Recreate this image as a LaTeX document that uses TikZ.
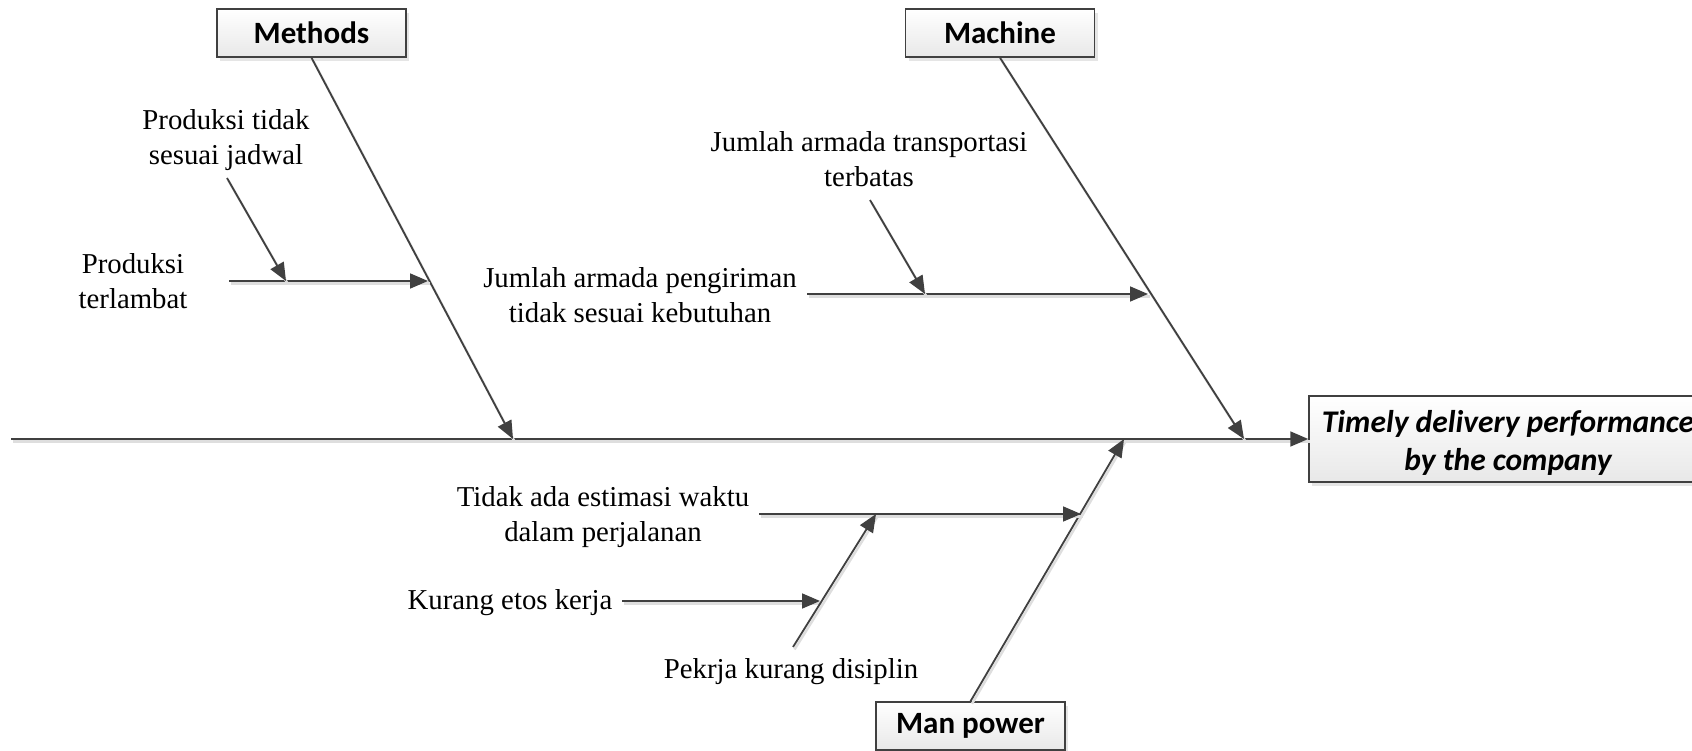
\documentclass[tikz,border=0pt]{standalone}
\usepackage{fontspec}
\setmainfont{Liberation Serif}
\newfontfamily\boxfont{Carlito}
\usetikzlibrary{arrows.meta,shadows}
\definecolor{linegray}{HTML}{404040}
\definecolor{shadowgray}{HTML}{DEDEDE}
\begin{document}
\begin{tikzpicture}[x=1pt,y=-1pt,
  catbox/.style={draw=linegray, line width=1.5pt, top color=white, bottom color=black!9,
    minimum width=189pt, minimum height=48pt, inner sep=0pt,
    font=\boxfont\fontsize{31}{36}\selectfont\bfseries,
    drop shadow={shadow xshift=3pt, shadow yshift=-4pt, fill=shadowgray, opacity=0.8}},
  causetext/.style={align=center, inner sep=0pt, font=\fontsize{28.8}{34.5}\selectfont},
  bone/.style={draw=linegray, line width=1.8pt,
    -{Triangle[length=18pt,width=15pt]},
    preaction={draw=shadowgray, line width=2.5pt, -, transform canvas={shift={(1.5pt,-2.5pt)}}}},
  spine/.style={bone, -{Triangle[length=18pt,width=15pt]}}
]
\useasboundingbox (0,0) rectangle (1692,751);

% category boxes
\node[catbox] (methods) at (311.5,33) {\raisebox{-1.5pt}{Methods}};
\node[catbox] (machine) at (1000,33) {\raisebox{-1.5pt}{Machine}};
\node[catbox] (manpower) at (970.5,726) {\raisebox{-2pt}{Man power}};

% effect box (runs past the right edge)
\node[catbox, minimum width=398pt, minimum height=86pt] (effect) at (1508,439) {};
\node[font=\boxfont\fontsize{31.5}{37.5}\selectfont\bfseries\itshape, align=center, inner sep=0pt]
  (effectText) at (1508,443) {Timely delivery performance\\by the company};

% spine points
\coordinate (tail) at (11,439);
\coordinate (mJoin) at (513,439);
\coordinate (cJoin) at (1244,439);
\coordinate (pJoin) at (1124,439);

% spine and main bones
\draw[spine] (tail) -- (effect.west);
\draw[bone] (methods.south) -- (mJoin);
\draw[bone] (machine.south) -- (cJoin);
\draw[bone] (manpower.north) -- (pJoin);

% Methods causes
\node[causetext] (terlambat) at (133,281) {Produksi\\terlambat};
\node[causetext] (jadwal) at (226,140) {Produksi tidak\\sesuai jadwal};
\coordinate (terlambatS) at (229,281);
\coordinate (terlambatE) at (428,281);
\coordinate (jadwalS) at (227,178);
\coordinate (jadwalE) at (286,281);
\draw[bone] (terlambatS) -- (terlambatE);
\draw[bone] (jadwalS) -- (jadwalE);

% Machine causes
\node[causetext] (pengiriman) at (640,295) {Jumlah armada pengiriman\\tidak sesuai kebutuhan};
\node[causetext] (transportasi) at (869,159) {Jumlah armada transportasi\\terbatas};
\coordinate (pengirimanS) at (807,294);
\coordinate (pengirimanE) at (1148,294);
\coordinate (transportasiS) at (870,200);
\coordinate (transportasiE) at (925,294);
\draw[bone] (pengirimanS) -- (pengirimanE);
\draw[bone] (transportasiS) -- (transportasiE);

% Man power causes
\node[causetext] (estimasi) at (603,517) {Tidak ada estimasi waktu\\dalam perjalanan};
\node[causetext] (etos) at (510,603) {Kurang etos kerja};
\node[causetext] (disiplin) at (791,672) {Pekrja kurang disiplin};
\coordinate (estimasiS) at (759,514);
\coordinate (estimasiE) at (1081,514);
\coordinate (etosS) at (622,601);
\coordinate (etosE) at (820,601);
\coordinate (disiplinS) at (793,647);
\coordinate (disiplinE) at (876,514);
\draw[bone] (estimasiS) -- (estimasiE);
\draw[bone] (etosS) -- (etosE);
\draw[bone] (disiplinS) -- (disiplinE);
\end{tikzpicture}
\end{document}
